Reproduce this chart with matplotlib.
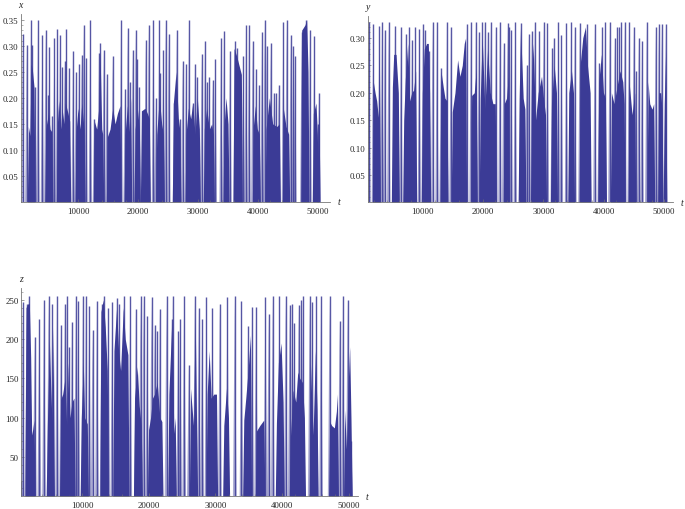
import matplotlib
matplotlib.use("Agg")
import matplotlib.pyplot as plt
from matplotlib.ticker import FixedLocator

W, H = 685, 510
BLUE = "#3b3b96"

# isolated spikes
x_spike_t = [700, 1370, 2090, 2310, 2810, 3260, 3980, 4540, 4990, 5150, 5600, 5990, 6490, 6940, 7330, 7710, 7990, 8440,
             9110, 9610, 10110, 10560, 10890, 11280, 12000, 12670, 13450, 13680, 14230, 14730, 15740, 17130, 17800,
             18240, 18580, 19080, 19580, 19860, 20190, 21250, 21750, 22530, 22980, 23530, 23700, 24200, 24590, 25090,
             26040, 26430, 26990, 27430, 27990, 28490, 29100, 29490, 29830, 30610, 31160, 31440, 31890, 32440, 32890,
             33840, 34340, 35340, 36180, 36460, 37570, 38020, 38520, 39130, 39690, 40190, 40690, 41130, 41470, 42140,
             42690, 43030, 43470, 44250, 44810, 45480, 45920, 46200, 47320, 48040, 48710, 49430, 50000, 50210]
x_spike_v = [.323, .302, .35, .302, .22, .35, .32, .33, .205, .298, .165, .315, .332, .32, .26, .27, .332, .257,
             .29, .25, .265, .282, .34, .277, .35, .16, .287, .305, .292, .245, .28, .35, .217,
             .335, .23, .292, .33, .275, .22, .312, .34, .35, .20, .35, .247, .292, .35, .322,
             .19, .33, .16, .27, .265, .35, .19, .265, .24, .285, .31, .23, .24, .235, .275,
             .315, .328, .29, .31, .295, .28, .34, .34, .31, .256, .225, .327, .35, .30, .305,
             .21, .21, .225, .345, .35, .32, .30, .28, .327, .35, .33, .318, .15, .21]
x_block_t = [[1640, 1920, 2090, 2310, 2590], [4540, 4990, 5260, 5540],
             [6490, 6710, 7050, 7270, 7600, 7830, 8270, 8550], [9610, 9940, 10280, 10560, 10950],
             [12670, 13060, 13400, 13620, 13900, 14070], [14840, 15290, 15740, 16130, 16520, 16960],
             [17800, 18190, 18520, 18740], [19470, 19860, 20190], [20530, 21140, 21530, 21860],
             [23090, 23530, 23920, 24200], [25870, 26320, 26710, 26930],
             [27990, 28380, 28770, 29100, 29490, 29880, 30220], [31050, 31440, 31890, 32280, 32560],
             [34340, 34670, 35010], [36010, 36460, 36900, 37240], [39240, 39570, 39910, 40240],
             [41360, 41910, 42470, 43140, 43590], [44250, 44700, 45140], [47320, 47870, 48150, 48380],
             [49270, 49710, 49940], [50050, 50210]]
x_block_v = [[.145, .127, .265, .255, .22], [.14, .17, .14, .135],
             [.15, .195, .14, .18, .15, .19, .17, .155], [.135, .18, .14, .19, .14],
             [.155, .14, .18, .29, .14, .13], [.125, .14, .18, .15, .17, .185],
             [.13, .185, .135, .2], [.14, .18, .14], [.175, .18, .17, .16],
             [.13, .2, .15, .13], [.19, .25, .16, .14],
             [.13, .18, .16, .19, .13, .2, .14], [.14, .18, .14, .15, .13],
             [.145, .2, .15], [.295, .28, .26, .245], [.145, .185, .14, .13],
             [.14, .2, .15, .145, .15], [.18, .145, .13], [.33, .34, .35, .25],
             [.17, .19, .13], [.12, .18]]

y_spike_t = [1100, 1820, 2820, 3260, 3700, 4360, 5410, 6400, 7230, 7780, 8230, 8780, 9440, 10050, 10380, 11100, 11650,
             12370, 13030, 14020, 14680, 17280, 18000, 18820, 19320, 19870, 20310, 20760, 21250, 22140, 22800, 23410,
             24070, 24290, 24670, 25340, 26220, 27210, 27600, 28100, 28590, 29310, 30030, 30690, 31460, 31740, 32510,
             33010, 33840, 34610, 35220, 36050, 37210, 38530, 39250, 39740, 40240, 41010, 41840, 42280, 42610, 42950,
             43500, 44220, 44990, 45320, 45820, 46370, 47140, 48630, 49130, 49630, 50290]
y_spike_v = [.33, .325, .322, .33, .315, .33, .322, .32, .308, .32, .297, .32, .317, .325, .315, .277, .33,
             .33, .246, .33, .32, .325, .33, .33, .31, .33, .33, .31, .33, .32, .33, .29,
             .327, .32, .315, .33, .327, .25, .308, .313, .33, .313, .33, .327, .282, .30, .33,
             .305, .328, .33, .32, .328, .325, .325, .255, .32, .33, .33, .30, .32, .32, .33,
             .33, .33, .32, .24, .30, .295, .33, .32, .325, .325, .326]
y_block_t = [[1820, 2100, 2370, 2650, 2820], [4970, 5190, 5580, 5960],
             [6850, 7120, 7510, 7840, 8170, 8500, 8830], [9940, 10270, 10650, 10930, 11150],
             [13030, 13410, 13690, 14020], [14900, 15350, 15790, 16170, 16560, 16890, 17110],
             [18110, 18550, 18880], [19540, 19870, 20310, 20760, 21200, 21640, 22030],
             [23520, 23900, 24180], [26000, 26220, 26660, 26940],
             [28040, 28320, 28700, 29150, 29700, 30030, 30360], [31350, 31800, 32180],
             [34220, 34670, 35000], [36100, 36540, 36980, 37320, 37760], [39190, 39630, 39970, 40300],
             [41290, 41730, 42280, 42730, 43170, 43390], [44220, 44710, 45150], [47360, 47640, 48020, 48300],
             [49130, 49460, 49680], [50050, 50290]]
y_block_v = [[.22, .2, .185, .155, .27], [.21, .27, .27, .2],
             [.15, .225, .29, .185, .2, .205, .24], [.2, .28, .29, .29, .2],
             [.24, .21, .19, .185], [.165, .2, .26, .23, .25, .29, .3],
             [.195, .2, .245], [.19, .3, .17, .28, .2, .18, .18],
             [.18, .19, .23], [.19, .32, .19, .17],
             [.22, .29, .15, .2, .23, .19, .16], [.18, .25, .2],
             [.2, .24, .2], [.25, .3, .32, .25, .2], [.22, .27, .2, .19],
             [.2, .18, .215, .24, .22, .18], [.22, .16, .2], [.22, .18, .17, .18],
             [.2, .2, .17], [.18, .28]]

z_spike_t = [750, 1050, 1650, 1950, 2850, 3550, 4250, 4950, 5500, 6200, 6800, 7400, 7700, 8050, 8450, 9050, 9400, 10100,
             10550, 11050, 11550, 12200, 12900, 13200, 13900, 14500, 15150, 15550, 16250, 17200, 18050, 18750, 19200,
             19750, 20400, 20850, 21250, 21650, 22650, 23450, 23600, 24400, 24700, 25300, 26000, 26900, 27500, 28000,
             28650, 29550, 30650, 31800, 32900, 33900, 34900, 35500, 36100, 37500, 38000, 38600, 39600, 40550, 41150,
             41550, 41850, 42500, 42900, 43150, 44150, 44550, 45150, 45850, 47150, 48650, 49150, 49850, 50350]
z_spike_v = [20, 247, 245, 255, 203, 226, 250, 255, 245, 255, 218, 245, 255, 190, 222, 255, 248, 255,
             255, 242, 212, 248, 245, 255, 240, 247, 252, 245, 255, 255, 238, 255, 255,
             230, 253, 218, 210, 238, 255, 225, 255, 210, 226, 255, 167, 255, 240, 225,
             253, 240, 245, 253, 255, 248, 217, 241, 241, 253, 232, 255, 255, 255, 243,
             245, 220, 243, 250, 255, 255, 247, 255, 255, 255, 223, 255, 250, 70]
z_block_t = [[1550, 1850, 2050, 2250, 2400, 2550, 2750], [4750, 5050, 5250, 5450, 5650],
             [6750, 7050, 7400, 7650, 7900, 8150, 8450, 8750], [9850, 10150, 10350, 10750],
             [12800, 13150, 13450, 13750], [14750, 15150, 15450, 15750, 16150, 16450, 16850],
             [17850, 18250, 18550, 18850], [19950, 20250, 20550, 20850, 21250, 21650, 21950],
             [23000, 23450, 23750, 23950], [26250, 26500, 26700, 26950, 27150],
             [28750, 29050, 29350, 29750, 30150], [31250, 31650, 31950],
             [34250, 34550, 34900, 35250], [36150, 36650, 37250], [39150, 39450, 39850, 40150],
             [41250, 41650, 42050, 42350, 42650, 43050, 43350], [44250, 44650, 45000, 45250],
             [47150, 47450, 47850, 48150, 48300], [49400, 49650, 49900, 50150, 50350]]
z_block_v = [[240, 245, 245, 176, 78, 85, 97], [90, 200, 140, 95, 215],
             [123, 130, 150, 90, 170, 100, 120, 125], [100, 170, 100, 92],
             [235, 250, 215, 160], [185, 240, 185, 160, 240, 200, 180],
             [125, 165, 115, 90], [85, 100, 125, 130, 145, 100, 95],
             [130, 225, 80, 100], [137, 110, 90, 230, 100],
             [130, 185, 125, 130, 130], [90, 137, 100],
             [97, 125, 160, 205], [83, 90, 97], [93, 170, 195, 120],
             [75, 135, 120, 158, 150, 145, 100], [170, 78, 185, 110],
             [95, 90, 87, 108, 130], [110, 60, 137, 190, 97]]

x_ticks = [10000, 20000, 30000, 40000, 50000]
x_panel_yticks = [0.05, 0.10, 0.15, 0.20, 0.25, 0.30, 0.35]
y_panel_yticks = [0.05, 0.10, 0.15, 0.20, 0.25, 0.30]
z_panel_yticks = [50, 100, 150, 200, 250]


def panel(box, xlim, ylim, spike_t, spike_v, block_t, block_v, yticks, yfmt, yminor, name):
    left, right, top, bottom = box
    ax = fig.add_axes([left / W, 1 - bottom / H, (right - left) / W, (bottom - top) / H])
    ax.set_xlim(*xlim)
    ax.set_ylim(*ylim)
    for t, v in zip(spike_t, spike_v):
        ax.fill([t - 280, t, t + 280], [0, v, 0], color=BLUE, alpha=0.42, lw=0)
    ax.vlines(spike_t, 0, spike_v, color=BLUE, lw=1.0, alpha=0.85)
    for ts, vs in zip(block_t, block_v):
        ax.fill_between([ts[0] - 170] + ts + [ts[-1] + 170], [0] + vs + [0], 0, color=BLUE, lw=0)
    for s in ["top", "right"]:
        ax.spines[s].set_visible(False)
    for s in ["left", "bottom"]:
        ax.spines[s].set_color("#777777")
        ax.spines[s].set_linewidth(0.6)
    ax.set_xticks(x_ticks)
    ax.set_xticklabels([str(t) for t in x_ticks])
    ax.xaxis.set_minor_locator(FixedLocator(range(2000, 52000, 2000)))
    ax.set_yticks(yticks)
    ax.set_yticklabels([yfmt % v for v in yticks])
    ax.yaxis.set_minor_locator(FixedLocator(yminor))
    ax.tick_params(which="major", direction="in", length=2.5, width=0.5, color="#777777",
                   labelsize=6.3, pad=1.5, labelcolor="#222222")
    ax.tick_params(axis="x", which="major", pad=3.5)
    ax.tick_params(which="minor", direction="in", length=1.3, width=0.4, color="#777777")
    for lab in ax.get_xticklabels() + ax.get_yticklabels():
        lab.set_family("Liberation Serif")
    fig.text(left / W, 1 - (top - 9.5) / H, name, family="Liberation Serif", style="italic",
             fontsize=7, ha="center", va="center", color="#222222")
    fig.text((right + 9) / W, 1 - bottom / H, "t", family="Liberation Serif", style="italic",
             fontsize=7, ha="center", va="center", color="#222222")
    return ax


fig = plt.figure(figsize=(W / 100, H / 100), dpi=100)

panel((20.7, 330, 15, 203), (360, 52050), (0, 0.361), x_spike_t, x_spike_v, x_block_t, x_block_v,
      x_panel_yticks, "%.2f", [i * 0.01 for i in range(1, 36)], "x")
panel((367.7, 673, 16.7, 203.3), (880, 51500), (0, 0.3406), y_spike_t, y_spike_v, y_block_t, y_block_v,
      y_panel_yticks, "%.2f", [i * 0.01 for i in range(1, 34)], "y")
panel((20.7, 358, 289, 497.3), (750, 51400), (0, 265), z_spike_t, z_spike_v, z_block_t, z_block_v,
      z_panel_yticks, "%d", list(range(10, 265, 10)), "z")

fig.savefig("out.png", dpi=100)
